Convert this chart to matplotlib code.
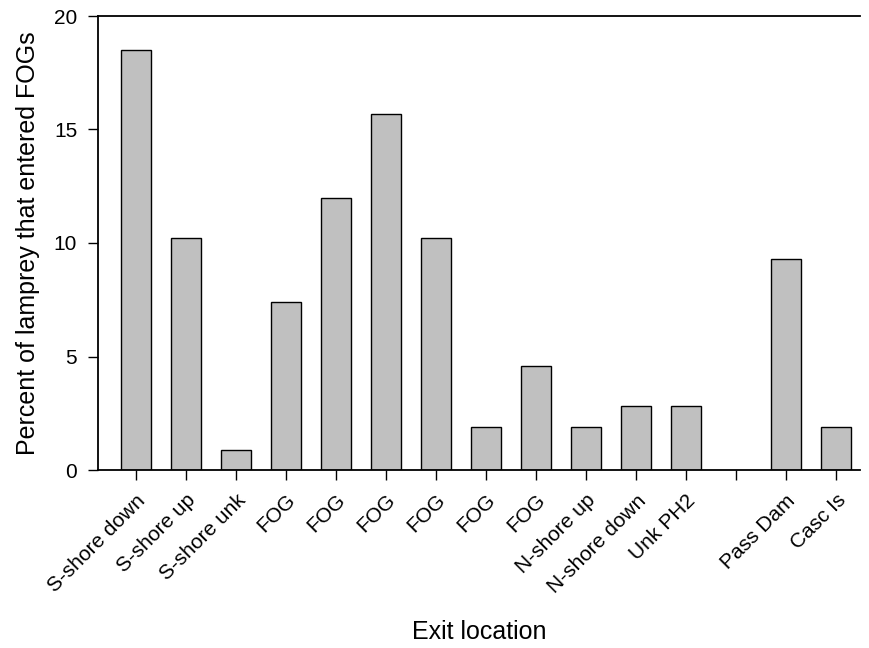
import numpy as np
import matplotlib.pyplot as plt

plt.rcParams['font.family'] = ['Liberation Sans', 'DejaVu Sans']

# Datos
categorias = ['S-shore down', 'S-shore up', 'S-shore unk', 'FOG', 'FOG', 'FOG', 'FOG',
              'FOG', 'FOG', 'N-shore up', 'N-shore down', 'Unk PH2', '', 'Pass Dam', 'Casc Is']
porcentajes = [18.5, 10.2, 0.9, 7.4, 12.0, 15.7, 10.2, 1.9, 4.6, 1.9, 2.8, 2.8, 0.0, 9.3, 1.9]

fig = plt.figure(figsize=(8.7, 6.48), dpi=100)
ax = fig.add_axes([98 / 870, 1 - 470 / 648, (860 - 98) / 870, (470 - 16) / 648])

x = np.arange(len(categorias))
alturas = np.array(porcentajes)
mask = alturas > 0
ax.bar(x[mask], alturas[mask], width=0.6, color='#c0c0c0', edgecolor='black', linewidth=1)

ax.set_xlim(-0.76, 14.48)
ax.set_ylim(0, 20)
ax.set_yticks([0, 5, 10, 15, 20])
ax.set_xticks(x)
ax.set_xticklabels(categorias, rotation=45, ha='right', rotation_mode='anchor', fontsize=15)
ax.tick_params(axis='y', labelsize=15, length=7, width=1, pad=8)
ax.tick_params(axis='x', length=7, width=1, pad=8)

ax.spines['right'].set_visible(False)
for s in ['left', 'top', 'bottom']:
    ax.spines[s].set_linewidth(1.3)

ax.set_ylabel('Percent of lamprey that entered FOGs', fontsize=18, labelpad=10)
ax.set_xlabel('Exit location', fontsize=18, labelpad=17)

plt.savefig('out.png', dpi=100)
